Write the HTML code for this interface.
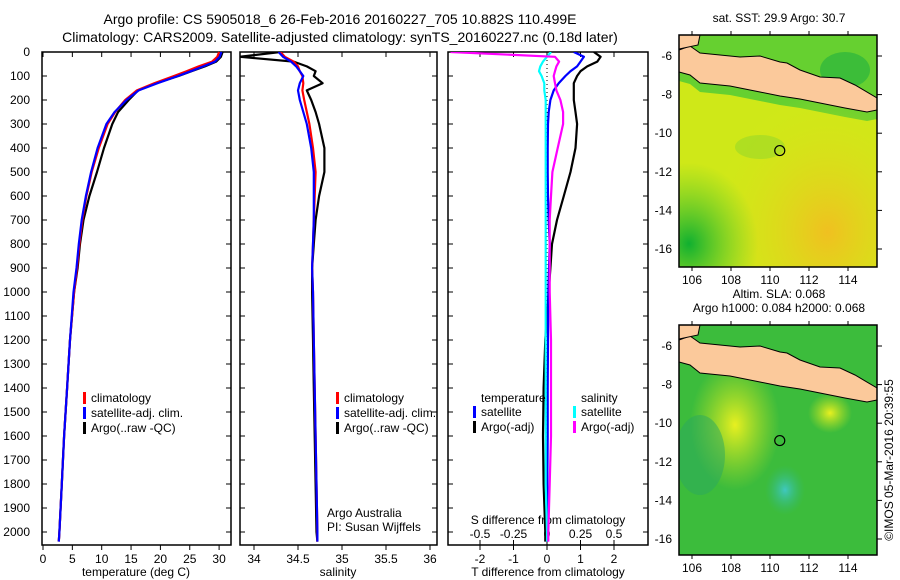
<!DOCTYPE html>
<html><head><meta charset="utf-8"><style>
body{margin:0;background:#fff;}
svg{display:block;font-family:"Liberation Sans",sans-serif;}
</style></head><body>
<svg id="c" width="900" height="580" viewBox="0 0 900 580" xmlns="http://www.w3.org/2000/svg">
<defs>
<radialGradient id="org" cx="0.75" cy="0.85" r="0.6"><stop offset="0" stop-color="#f0c020"/><stop offset="1" stop-color="#d8e818" stop-opacity="0"/></radialGradient>
<radialGradient id="grn" cx="0.05" cy="0.9" r="0.35"><stop offset="0" stop-color="#10b030"/><stop offset="1" stop-color="#50c830" stop-opacity="0"/></radialGradient>
<radialGradient id="yb1" cx="0.5" cy="0.5" r="0.5"><stop offset="0" stop-color="#e8f020"/><stop offset="1" stop-color="#c0e020" stop-opacity="0"/></radialGradient>
<radialGradient id="cy1" cx="0.5" cy="0.5" r="0.5"><stop offset="0" stop-color="#40c8c0"/><stop offset="1" stop-color="#30b878" stop-opacity="0"/></radialGradient>
</defs>
<g font-size="14" text-anchor="middle">
<text x="340" y="24">Argo profile: CS 5905018_6 26-Feb-2016 20160227_705 10.882S 110.499E</text>
<text x="340" y="42">Climatology: CARS2009. Satellite-adjusted climatology: synTS_20160227.nc (0.18d later)</text>
</g>
<g id="plots"></g>
<g id="maps"></g>
<text transform="translate(893,460) rotate(-90)" font-size="12" text-anchor="middle">©IMOS 05-Mar-2016 20:39:55</text>
</svg>
<script>
const depths=[0,20,40,60,80,100,130,160,200,250,300,400,500,600,700,800,900,1000,1200,1400,1600,1800,2000,2040];
const tempClim=[30.0,29.7,28.8,26.5,24.5,22.3,19,16,14,12.3,11,9.5,8.3,7.4,6.7,6.2,5.8,5.3,4.6,4.1,3.6,3.2,2.8,2.7];
const tempSat=[30.4,30.1,29.3,27.3,25.2,23.0,19.5,16.3,14.2,12.2,10.8,9.3,8.2,7.3,6.6,6.1,5.7,5.2,4.6,4.1,3.6,3.2,2.8,2.7];
const tempArgo=[30.6,30.3,29.5,27.6,25.3,23.1,19.3,16.2,14.6,12.8,11.8,10.4,9.2,7.9,6.9,6.3,5.9,5.3,4.6,4.1,3.6,3.2,2.8,2.7];
const salClim=[34.3,34.35,34.45,34.5,34.52,34.55,34.56,34.55,34.57,34.6,34.63,34.67,34.7,34.69,34.68,34.67,34.66,34.67,34.68,34.69,34.7,34.71,34.72,34.72];
const salSat=[34.28,34.33,34.42,34.48,34.52,34.56,34.52,34.5,34.52,34.56,34.6,34.65,34.68,34.68,34.68,34.67,34.66,34.67,34.68,34.69,34.7,34.71,34.72,34.72];
const salArgo=[34.3,33.84,34.45,34.6,34.7,34.68,34.78,34.6,34.65,34.7,34.74,34.8,34.8,34.74,34.7,34.68,34.66,34.66,34.67,34.68,34.69,34.7,34.71,34.72];
const dTsat=[0.8,1.1,1.0,0.9,0.7,0.55,0.35,0.2,0.1,0.05,0.03,0.02,0.02,0.03,0.05,0.08,0.06,0.04,0.03,0.02,0.02,0.01,0.01,0.01];
const dTargo=[1.4,1.6,1.5,1.2,1.0,0.9,0.8,0.8,0.8,0.85,0.9,0.85,0.7,0.5,0.3,0.15,0.1,0.05,-0.05,-0.1,-0.12,-0.1,-0.05,-0.05];
const dSsat=[0.03,0.0,-0.03,-0.05,-0.06,-0.04,-0.02,-0.02,-0.01,-0.01,-0.01,-0.01,-0.01,-0.01,-0.01,-0.01,-0.01,-0.01,-0.01,-0.01,-0.01,-0.01,0.0,0.0];
const dSargo=[-0.72,0.06,0.09,0.07,0.06,0.05,0.06,0.07,0.1,0.12,0.12,0.08,0.04,0.03,0.02,0.02,0.02,0.02,0.03,0.03,0.03,0.02,0.01,0.01];
const depthTicks=[0,100,200,300,400,500,600,700,800,900,1000,1100,1200,1300,1400,1500,1600,1700,1800,1900,2000];
const tempTicks=[0,5,10,15,20,25,30];
const salTicks=[34,34.5,35,35.5,36];
const salTickLabels=["34","34.5","35","35.5","36"];
const tdTicks=[-2,-1,0,1,2];
const sdTicks=[-0.5,-0.25,0,0.25,0.5];
const sdTickLabels=["-0.5","-0.25","0","0.25","0.5"];

const NS="http://www.w3.org/2000/svg";
const root=document.getElementById('plots');
function mk(tag,attrs,parent){const e=document.createElementNS(NS,tag);for(const k in attrs)e.setAttribute(k,attrs[k]);(parent||root).appendChild(e);return e;}
const yD=d=>52+d*0.24;
const xT=t=>43+t*5.87;
const xS=s=>254+(s-34)*88;
const xTD=t=>547+t*33.5;
const xSD=s=>547+s*134;
const TOP=52,BOT=545;

function frame(x0,x1,name){
  const r=mk('rect',{x:x0,y:TOP,width:x1-x0,height:BOT-TOP,fill:'none',stroke:'#000','stroke-width':1.5});
  
  
  depthTicks.forEach(d=>{
    mk('line',{x1:x0,x2:x0+5,y1:yD(d),y2:yD(d),stroke:'#000'});
    mk('line',{x1:x1-5,x2:x1,y1:yD(d),y2:yD(d),stroke:'#000'});
  });
}
function line(xs,vals,xf,color,name,w){
  const pts=depths.map((d,i)=>xf(vals[i]).toFixed(1)+','+yD(d).toFixed(1)).join(' ');
  const p=mk('polyline',{points:pts,fill:'none',stroke:color,'stroke-width':w||2.2,'stroke-linejoin':'round'});
  
  
}
depthTicks.forEach(d=>{const t=mk('text',{x:30,y:yD(d)+4,'font-size':12,'text-anchor':'end'});t.textContent=d;

});

frame(42,231,'temperature-panel');
tempTicks.forEach(t=>{mk('line',{x1:xT(t),x2:xT(t),y1:BOT,y2:BOT+5,stroke:'#000'});mk('line',{x1:xT(t),x2:xT(t),y1:TOP,y2:TOP+5,stroke:'#000'});
const l=mk('text',{x:xT(t),y:BOT+18,'font-size':12,'text-anchor':'middle'});l.textContent=t;

});
let at=mk('text',{x:136,y:576,'font-size':12,'text-anchor':'middle'});at.textContent='temperature (deg C)';


line(depths,tempArgo,xT,'#000','temp-argo-line');
line(depths,tempClim,xT,'#f00','temp-climatology-line');
line(depths,tempSat,xT,'#00f','temp-satellite-line');

frame(240,437,'salinity-panel');
salTicks.forEach((s,i)=>{mk('line',{x1:xS(s),x2:xS(s),y1:BOT,y2:BOT+5,stroke:'#000'});mk('line',{x1:xS(s),x2:xS(s),y1:TOP,y2:TOP+5,stroke:'#000'});
const l=mk('text',{x:xS(s),y:BOT+18,'font-size':12,'text-anchor':'middle'});l.textContent=salTickLabels[i];

});
at=mk('text',{x:338,y:576,'font-size':12,'text-anchor':'middle'});at.textContent='salinity';


const clipS=mk('clipPath',{id:'cs'});mk('rect',{x:240,y:TOP,width:197,height:BOT-TOP},clipS);
const gS=mk('g',{'clip-path':'url(#cs)'});
function lineIn(g,vals,xf,color,name){const pts=depths.map((d,i)=>xf(vals[i]).toFixed(1)+','+yD(d).toFixed(1)).join(' ');
const p=mk('polyline',{points:pts,fill:'none',stroke:color,'stroke-width':2.2,'stroke-linejoin':'round'},g);

}
lineIn(gS,salArgo,xS,'#000','salinity-argo-line');
lineIn(gS,salClim,xS,'#f00','salinity-climatology-line');
lineIn(gS,salSat,xS,'#00f','salinity-satellite-line');
at=mk('text',{x:327,y:517,'font-size':12});at.textContent='Argo Australia';


at=mk('text',{x:327,y:531,'font-size':12});at.textContent='PI: Susan Wijffels';



function legend(x,y,items){items.forEach((it,i)=>{
  mk('rect',{x:x,y:y+i*15-10,width:3,height:12,fill:it[1]});
  const t=mk('text',{x:x+8,y:y+i*15,'font-size':12});t.textContent=it[0];
  
  });}
const leg=[['climatology','#f00'],['satellite-adj. clim.','#00f'],['Argo(..raw -QC)','#000']];
legend(83,402,leg);
legend(336,402,leg);

frame(448,648,'difference-panel');
tdTicks.forEach(t=>{mk('line',{x1:xTD(t),x2:xTD(t),y1:BOT,y2:BOT+5,stroke:'#000'});
const l=mk('text',{x:xTD(t),y:BOT+18,'font-size':12,'text-anchor':'middle'});l.textContent=t;

});
sdTicks.forEach((s,i)=>{mk('line',{x1:xSD(s),x2:xSD(s),y1:TOP,y2:TOP+5,stroke:'#000'});
mk('line',{x1:xSD(s),x2:xSD(s),y1:BOT-5,y2:BOT,stroke:'#000'});
const l=mk('text',{x:xSD(s),y:BOT-7,'font-size':12,'text-anchor':'middle'});l.textContent=sdTickLabels[i];

});
at=mk('text',{x:548,y:576,'font-size':12,'text-anchor':'middle'});at.textContent='T difference from climatology';


at=mk('text',{x:548,y:524,'font-size':12,'text-anchor':'middle'});at.textContent='S difference from climatology';


mk('line',{x1:547,x2:547,y1:TOP,y2:BOT,stroke:'#000','stroke-dasharray':'1,3'});
const clipD=mk('clipPath',{id:'cd'});mk('rect',{x:448,y:TOP,width:200,height:BOT-TOP},clipD);
const gD=mk('g',{'clip-path':'url(#cd)'});
lineIn(gD,dTargo,xTD,'#000','t-diff-argo-line');
lineIn(gD,dTsat,xTD,'#00f','t-diff-satellite-line');
lineIn(gD,dSsat,xSD,'#0ff','s-diff-satellite-line');
lineIn(gD,dSargo,xSD,'#f0f','s-diff-argo-line');
at=mk('text',{x:481,y:402,'font-size':12});at.textContent='temperature';


at=mk('text',{x:581,y:402,'font-size':12});at.textContent='salinity';


legend(473,416,[['satellite','#00f'],['Argo(-adj)','#000']]);
legend(573,416,[['satellite','#0ff'],['Argo(-adj)','#f0f']]);

const M=document.getElementById('maps');
const lonTicks=[106,108,110,112,114];
const latTicks=[-6,-8,-10,-12,-14,-16];
const xL=lon=>692+(lon-106)*19.5;
const java=[[679,50],[690,46],[700,53],[720,55],[740,57],[760,56],[780,62],[787,63],[800,70],[820,77],[840,78],[855,85],[877,98],[877,110],[867,112],[845,108],[820,103],[800,99],[780,96],[760,92],[730,86],[700,83],[690,75],[679,72]];
function map(y0,h,name,top,caption){
  const yL=lat=>y0+21+(-6-lat)*19.3;
  const off=y0-35;
  const g=mk('g',{},M);
  
  
  const cp=mk('clipPath',{id:'m'+y0},g);mk('rect',{x:679,y:y0,width:198,height:h},cp);
  const gi=mk('g',{'clip-path':'url(#m'+y0+')'},g);
  if(top){
    mk('rect',{x:679,y:y0,width:198,height:h,fill:'#cfe818'},gi);
    const south=java.slice(13).map(p=>p[0]+','+(p[1]+off+9)).join(' ');
    mk('polygon',{points:`679,${y0} 877,${y0} 877,${y0+80} `+south,fill:'#66d030'},gi);
    mk('rect',{x:679,y:y0,width:198,height:h,fill:'url(#org)'},gi);
    mk('rect',{x:679,y:y0,width:198,height:h,fill:'url(#grn)'},gi);
    mk('ellipse',{cx:845,cy:y0+35,rx:25,ry:18,fill:'#20b040',opacity:0.6},gi);
    mk('ellipse',{cx:760,cy:y0+112,rx:25,ry:12,fill:'#9ad828',opacity:0.6},gi);
  } else {
    mk('rect',{x:679,y:y0,width:198,height:h,fill:'#3cbc3c'},gi);
    mk('ellipse',{cx:735,cy:y0+100,rx:45,ry:65,fill:'url(#yb1)'},gi);
    mk('ellipse',{cx:830,cy:y0+88,rx:22,ry:20,fill:'url(#yb1)'},gi);
    mk('ellipse',{cx:785,cy:y0+165,rx:20,ry:25,fill:'url(#cy1)'},gi);
    mk('ellipse',{cx:700,cy:y0+130,rx:25,ry:40,fill:'#2aa860',opacity:0.5},gi);
  }
  const pts=java.map(p=>p[0]+','+(p[1]+off)).join(' ');
  const land=mk('polygon',{points:pts,fill:'#fbc99b',stroke:'#000','stroke-width':1},gi);
  
  
  mk('polygon',{points:`679,${y0} 700,${y0} 698,${y0+10} 679,${y0+14}`,fill:'#fbc99b',stroke:'#000'},gi);
  mk('rect',{x:679,y:y0,width:198,height:h,fill:'none',stroke:'#000','stroke-width':1.5},g);
  lonTicks.forEach(l=>{mk('line',{x1:xL(l),x2:xL(l),y1:y0+h,y2:y0+h+4,stroke:'#000'},g);mk('line',{x1:xL(l),x2:xL(l),y1:y0,y2:y0-4,stroke:'#000'},g);
    const t=mk('text',{x:xL(l),y:y0+h+17,'font-size':12,'text-anchor':'middle'},g);t.textContent=l;
    
    });
  latTicks.forEach(l=>{mk('line',{x1:877,x2:882,y1:yL(l),y2:yL(l),stroke:'#000'},g);
    const t=mk('text',{x:672,y:yL(l)+4,'font-size':12,'text-anchor':'end'},g);t.textContent=l;
    
    });
  const c=mk('circle',{cx:xL(110.5),cy:yL(-10.9),r:5,fill:'none',stroke:'#000','stroke-width':1.2},g);
  
  
  caption.forEach((s,i)=>{const t=mk('text',{x:779,y:y0-13-(caption.length-1-i)*14,'font-size':12,'text-anchor':'middle'},g);t.textContent=s;
    
    });
}
map(35,232,'sst-map',true,['sat. SST: 29.9 Argo: 30.7']);
map(325,230,'sla-map',false,['Altim. SLA: 0.068','Argo h1000: 0.084 h2000: 0.068']);
</script>
</body></html>
